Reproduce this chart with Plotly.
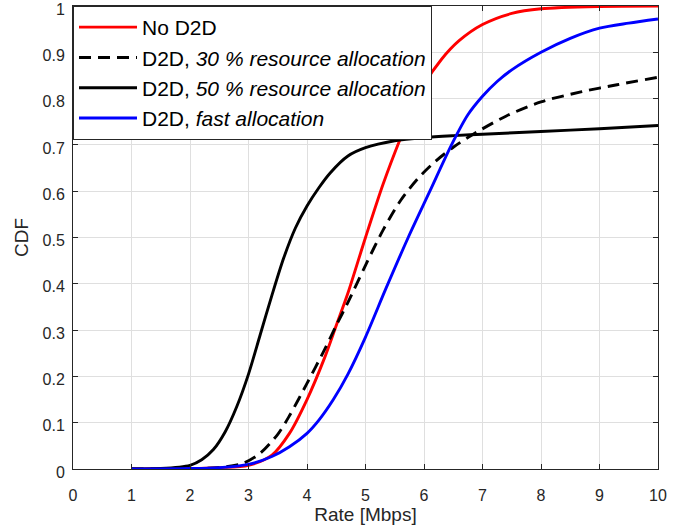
import plotly.graph_objects as go

# ---- data ----
rate_no_d2d = [1, 2, 2.5, 3, 3.4, 3.7, 4.0, 4.3, 4.5, 4.7, 5.0, 5.3, 5.6, 5.8, 6.0, 6.3, 6.6, 7.0, 7.5, 8.0, 9.0, 10.0]
cdf_no_d2d = [0, 0.001, 0.003, 0.008, 0.03, 0.077, 0.15, 0.24, 0.31, 0.38, 0.50, 0.615, 0.715, 0.775, 0.83, 0.885, 0.925, 0.96, 0.984, 0.994, 0.999, 1.0]

rate_d2d_30 = [1, 2, 2.5, 2.9, 3.2, 3.5, 3.7, 4.0, 4.3, 4.5, 4.7, 5.0, 5.3, 5.6, 5.9, 6.2, 6.5, 6.8, 7.4, 8.0, 8.7, 9.3, 10]
cdf_d2d_30 = [0, 0.001, 0.003, 0.012, 0.034, 0.075, 0.115, 0.185, 0.258, 0.31, 0.36, 0.44, 0.516, 0.58, 0.628, 0.665, 0.695, 0.72, 0.762, 0.793, 0.815, 0.83, 0.846]

rate_d2d_50 = [1, 1.5, 2, 2.2, 2.4, 2.6, 2.8, 3.0, 3.2, 3.4, 3.6, 3.8, 4.0, 4.2, 4.4, 4.7, 5.0, 5.5, 6.0, 6.5, 7, 8, 9, 10]
cdf_d2d_50 = [0, 0.001, 0.008, 0.02, 0.042, 0.08, 0.135, 0.205, 0.29, 0.375, 0.455, 0.52, 0.568, 0.607, 0.64, 0.676, 0.694, 0.709, 0.716, 0.72, 0.723, 0.729, 0.735, 0.742]

rate_fast = [1, 2, 2.5, 3, 3.4, 3.7, 4.0, 4.2, 4.45, 4.7, 5.0, 5.35, 5.73, 6.1, 6.47, 6.75, 7.0, 7.25, 7.5, 8.0, 8.5, 9.0, 9.5, 10]
cdf_fast = [0, 0.001, 0.003, 0.01, 0.027, 0.048, 0.077, 0.105, 0.15, 0.205, 0.285, 0.39, 0.5, 0.6, 0.7, 0.765, 0.805, 0.837, 0.862, 0.9, 0.93, 0.952, 0.963, 0.972]

x_ticks = [0, 1, 2, 3, 4, 5, 6, 7, 8, 9, 10]
y_ticks = [0, 0.1, 0.2, 0.3, 0.4, 0.5, 0.6, 0.7, 0.8, 0.9, 1]
y_tick_labels = ["0", "0.1", "0.2", "0.3", "0.4", "0.5", "0.6", "0.7", "0.8", "0.9", "1"]

FONT = "Liberation Sans, Arial, sans-serif"
AX = "#262626"
GRID = "#dfdfdf"
LW = 2.9

fig = go.Figure()
fig.add_trace(go.Scatter(x=rate_no_d2d, y=cdf_no_d2d, mode="lines", name="No D2D",
                         line=dict(color="#ff0000", width=LW, shape="spline", smoothing=0.8)))
fig.add_trace(go.Scatter(x=rate_d2d_30, y=cdf_d2d_30, mode="lines",
                         name="D2D, <i>30 % resource allocation</i>",
                         line=dict(color="#000000", width=LW, dash="12px,7px", shape="spline", smoothing=0.8)))
fig.add_trace(go.Scatter(x=rate_d2d_50, y=cdf_d2d_50, mode="lines",
                         name="D2D, <i>50 % resource allocation</i>",
                         line=dict(color="#000000", width=LW, shape="spline", smoothing=0.8)))
fig.add_trace(go.Scatter(x=rate_fast, y=cdf_fast, mode="lines",
                         name="D2D, <i>fast allocation</i>",
                         line=dict(color="#0000ff", width=LW, shape="spline", smoothing=0.8)))

axis_common = dict(
    showline=True, linecolor=AX, linewidth=1, mirror="allticks",
    ticks="inside", ticklen=5, tickcolor=AX, tickwidth=1,
    showgrid=True, gridcolor=GRID, gridwidth=1, zeroline=False,
    tickfont=dict(family=FONT, size=16, color=AX),
    automargin=False, ticklabeloverflow="allow",
)

fig.update_layout(
    width=689, height=532,
    margin=dict(l=73, r=31, t=6, b=63),
    paper_bgcolor="white", plot_bgcolor="white",
    font=dict(family=FONT, color="#000000"),
    xaxis=dict(range=[0, 10], tickvals=x_ticks, ticklabelstandoff=12,
               title=dict(text="Rate [Mbps]", font=dict(family=FONT, size=19, color=AX), standoff=4),
               **axis_common),
    yaxis=dict(range=[0, 1], tickvals=y_ticks, ticktext=y_tick_labels,
               ticklabelstandoff=4, ticklabelshift=3,
               title=dict(text="CDF", font=dict(family=FONT, size=19, color=AX), standoff=8),
               **axis_common),
    legend=dict(x=0, y=1, xanchor="left", yanchor="top",
                bgcolor="white", bordercolor=AX, borderwidth=1,
                font=dict(family=FONT, size=21, color="#000000"),
                tracegroupgap=0, itemwidth=58),
    showlegend=True,
)

fig.write_html("out.html", config={"displayModeBar": False},
               post_script="document.body.style.margin='0';")
